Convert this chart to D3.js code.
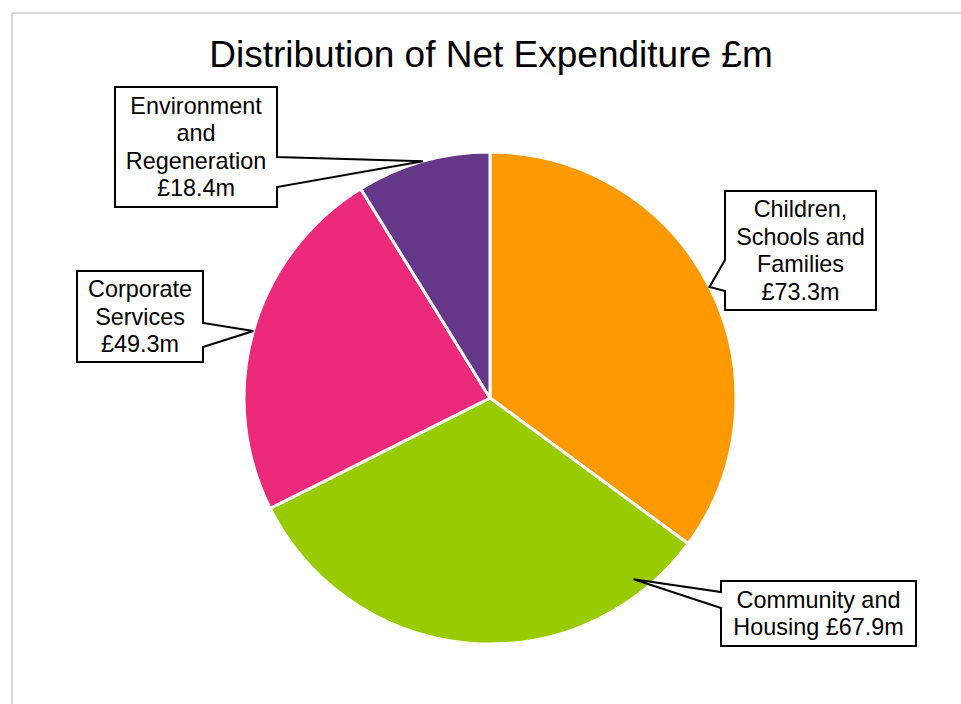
<!DOCTYPE html>
<html>
<head>
<meta charset="utf-8">
<script src="https://cdn.jsdelivr.net/npm/d3@7"></script>
<style>
  body { margin: 0; background: #fff; }
  svg { display: block; font-family: "Liberation Sans", Arial, sans-serif; }
</style>
</head>
<body>
<svg id="chart" width="961" height="704"></svg>
<script>
// data
var categories = ["Children, Schools and Families", "Community and Housing", "Corporate Services", "Environment and Regeneration"];
var values = [73.3, 67.9, 49.3, 18.4];
var colours = ["#ff9900", "#99cc00", "#ec297b", "#643789"];
var labelLines = [
  ["Children,", "Schools and", "Families", "£73.3m"],
  ["Community and", "Housing £67.9m"],
  ["Corporate", "Services", "£49.3m"],
  ["Environment", "and", "Regeneration", "£18.4m"]
];
var title = "Distribution of Net Expenditure £m";

var width = 961, height = 704;
var cx = 490, cy = 398, radius = 246;

// callout layout: box, side the pointer leaves from, pointer base on that side
var callouts = [
  {x0: 725, y0: 191, x1: 876, y1: 310, side: "left",  a: 260, b: 291, tipR: 1.0},
  {x0: 721, y0: 581, x1: 916, y1: 646, side: "left",  a: 592, b: 608, tipR: 0.94, tipAngle: 141.6},
  {x0: 77,  y0: 271, x1: 203, y1: 362, side: "right", a: 323, b: 347, tipR: 1.0},
  {x0: 115, y0: 87,  x1: 277, y1: 207, side: "right", a: 157, b: 187, tipR: 1.0}
];

var svg = d3.select("#chart");

// outer frame (cropped)
svg.append("rect")
    .attr("x", 12).attr("y", 13)
    .attr("width", 1000).attr("height", 800)
    .attr("fill", "#fff")
    .attr("stroke", "#d9d9d9")
    .attr("stroke-width", 2);

//title
svg.append("text")
    .attr("x", 491).attr("y", 67)
    .attr("text-anchor", "middle")
    .style("font-size", "37px")
    .style("fill", "#000")
    .text(title);

var pie = d3.pie().sort(null).value(function(d) { return d; });
var arc = d3.arc().innerRadius(0).outerRadius(radius);
var arcs = pie(values);

var g = svg.append("g").attr("transform", "translate(" + cx + "," + cy + ")");

g.selectAll("path")
    .data(arcs)
    .enter().append("path")
    .attr("d", arc)
    .attr("fill", function(d, i) { return colours[i]; })
    .attr("stroke", "#fff")
    .attr("stroke-width", 3)
    .attr("stroke-linejoin", "round");

// builds a box with a wedge pointing at the slice
function calloutPath(c, tip) {
  var p = [];
  if (c.side === "left") {
    p = [[c.x0, c.y0], [c.x1, c.y0], [c.x1, c.y1], [c.x0, c.y1], [c.x0, c.b], tip, [c.x0, c.a]];
  } else {
    p = [[c.x0, c.y0], [c.x1, c.y0], [c.x1, c.a], tip, [c.x1, c.b], [c.x1, c.y1], [c.x0, c.y1]];
  }
  return "M" + p.map(function(q) { return q[0] + "," + q[1]; }).join("L") + "Z";
}

var labels = svg.append("g");

arcs.forEach(function(d, i) {
  var c = callouts[i];
  var ang = c.tipAngle != null ? c.tipAngle * Math.PI / 180 : (d.startAngle + d.endAngle) / 2;
  var r = radius * c.tipR;
  var tip = [cx + r * Math.sin(ang), cy - r * Math.cos(ang)];

  labels.append("path")
      .attr("d", calloutPath(c, tip))
      .attr("fill", "#fff")
      .attr("stroke", "#000")
      .attr("stroke-width", 2)
      .attr("stroke-linejoin", "miter");

  var lines = labelLines[i];
  var lh = 27.5;
  var midY = (c.y0 + c.y1) / 2;
  var firstBase = midY - (lines.length - 1) * lh / 2 + 8;
  var t = labels.append("text")
      .attr("text-anchor", "middle")
      .style("font-size", "23.4px")
      .style("fill", "#000");
  lines.forEach(function(s, k) {
    t.append("tspan")
        .attr("x", (c.x0 + c.x1) / 2)
        .attr("y", firstBase + k * lh)
        .text(s);
  });
});
</script>
</body>
</html>
